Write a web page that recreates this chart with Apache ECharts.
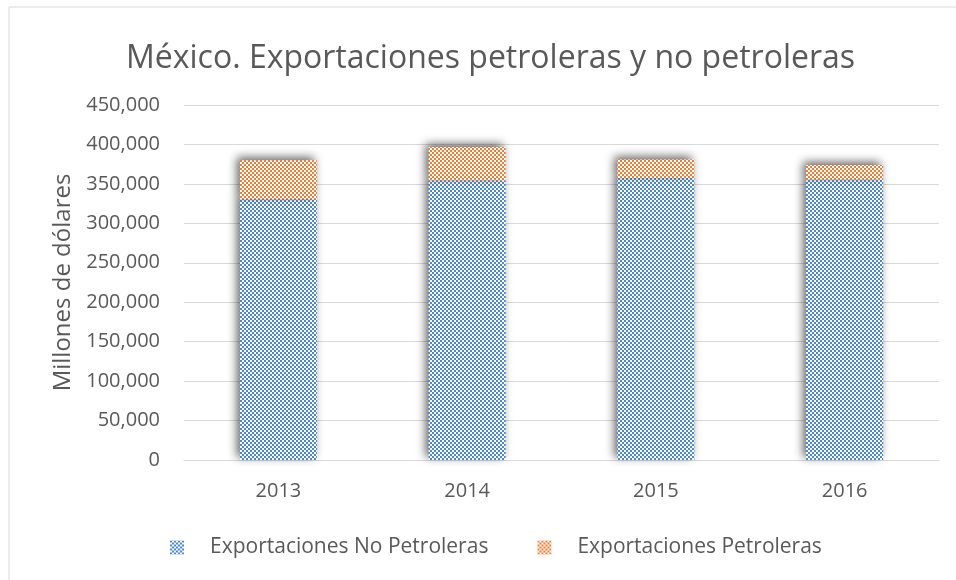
<!DOCTYPE html>
<html>
<head>
<meta charset="utf-8">
<script src="https://cdn.jsdelivr.net/npm/echarts@6/dist/echarts.min.js"></script>
<style>
  html, body { margin: 0; padding: 0; background: #fff; }
  #main { width: 956px; height: 580px; }
</style>
</head>
<body>
<div id="main"></div>
<script>
var years = ['2013', '2014', '2015', '2016'];
var noPetroleras = [330522, 354326, 357340, 355187];
var petroleras = [49493, 42586, 23432, 18743];
var yTicks = [0, 50000, 100000, 150000, 200000, 250000, 300000, 350000, 400000, 450000];

// checkerboard pattern like the excel fill
function checker(color) {
    var c = document.createElement('canvas');
    c.width = 4;
    c.height = 4;
    var ctx = c.getContext('2d');
    ctx.fillStyle = '#ffffff';
    ctx.fillRect(0, 0, 4, 4);
    ctx.fillStyle = color;
    ctx.fillRect(0, 0, 2, 2);
    ctx.fillRect(2, 2, 2, 2);
    return { image: c, repeat: 'repeat' };
}

var blue = checker('#4a88d0');
var orange = checker('#ed7d31');

var myChart = echarts.init(document.getElementById('main'));
var shadow = {
    shadowColor: 'rgba(0,0,0,0.6)',
    shadowBlur: 10,
    shadowOffsetX: -3,
    shadowOffsetY: -3
};

var option = {
    backgroundColor: '#fff',
    animation: false,
    textStyle: { fontFamily: 'Open Sans' },
    title: {
        text: 'México. Exportaciones petroleras y no petroleras',
        left: 121,
        top: 38,
        textStyle: { fontSize: 32, fontWeight: 'normal', color: '#595959', fontFamily: 'Open Sans' }
    },
    graphic: [{
        type: 'rect',
        shape: { x: 9, y: 7, width: 960, height: 600 },
        style: { fill: 'none', stroke: '#d9d9d9', lineWidth: 1 },
        silent: true
    }],
    legend: {
        top: 532,
        left: 165,
        itemWidth: 14,
        itemHeight: 14,
        itemGap: 49,
        icon: 'rect',
        textStyle: { fontSize: 21, color: '#595959', padding: [0, 0, 0, 21] },
        data: ['Exportaciones No Petroleras', 'Exportaciones Petroleras']
    },
    grid: { left: 184, right: 17, top: 105, bottom: 120 },
    xAxis: {
        type: 'category',
        data: years,
        axisTick: { show: false },
        axisLine: { lineStyle: { color: '#d9d9d9', width: 1 } },
        axisLabel: { fontSize: 20, color: '#595959', margin: 21 }
    },
    yAxis: {
        type: 'value',
        min: yTicks[0],
        max: yTicks[yTicks.length - 1],
        interval: 50000,
        name: 'Millones de dólares',
        nameLocation: 'middle',
        nameGap: 106,
        nameTextStyle: { fontSize: 24, color: '#595959' },
        axisLine: { show: false },
        axisTick: { show: false },
        splitLine: { lineStyle: { color: '#d9d9d9', width: 1 } },
        axisLabel: {
            fontSize: 20,
            color: '#595959',
            margin: 24,
            formatter: function (v) { return v.toLocaleString('en-US'); }
        }
    },
    series: [{
        name: 'Exportaciones No Petroleras',
        type: 'bar',
        stack: 'total',
        barWidth: 77,
        data: noPetroleras,
        itemStyle: Object.assign({ color: blue }, shadow)
    }, {
        name: 'Exportaciones Petroleras',
        type: 'bar',
        stack: 'total',
        barWidth: 77,
        data: petroleras,
        itemStyle: Object.assign({ color: orange }, shadow)
    }]
};
myChart.setOption(option);
</script>
</body>
</html>
